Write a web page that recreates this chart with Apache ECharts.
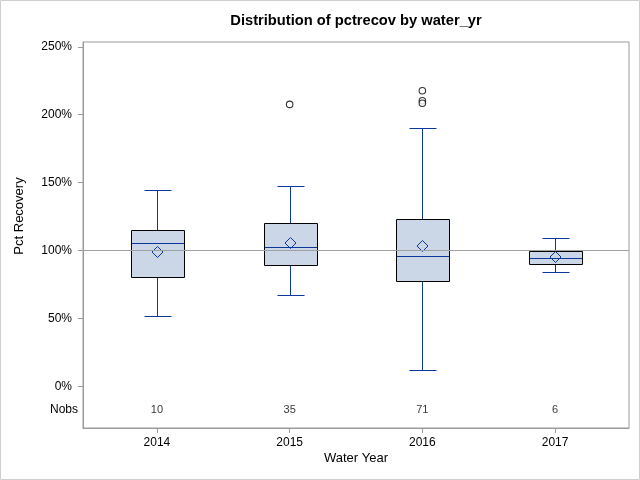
<!DOCTYPE html>
<html>
<head>
<meta charset="utf-8">
<script src="https://cdn.jsdelivr.net/npm/echarts@6/dist/echarts.min.js"></script>
<style>
html,body{margin:0;padding:0;background:#fff;}
#c{width:640px;height:480px;}
</style>
</head>
<body>
<div id="c"></div>
<script>
// ---- data ----
const years = ['2014', '2015', '2016', '2017'];
const nobs = [10, 35, 71, 6];
const whiskerLow = [51.8, 67.2, 12.1, 84.1];
const q1 = [80.4, 89.3, 77.5, 90.0];
const median = [105.4, 102.7, 95.9, 94.4];
const q3 = [115.0, 120.1, 123.1, 99.5];
const whiskerHigh = [144.4, 147.4, 190.0, 109.1];
const mean = [98.8, 105.4, 103.5, 95.1];
const outliers = [[], [207.6], [217.6, 210.3, 208.4], []];
const yTicks = [0, 50, 100, 150, 200, 250];
const refValue = 100;
const nobsRowY = -17;

// ---- build ----
const boxData = years.map((y, i) => [i, whiskerLow[i], q1[i], median[i], q3[i], whiskerHigh[i], mean[i]]);
const outlierData = [];
outliers.forEach((arr, i) => arr.forEach(v => outlierData.push([i, v])));
const nobsData = nobs.map((n, i) => [i, nobsRowY, n]);

const BLUE = '#0a3799';
const FONT = 'Liberation Sans, Arial, sans-serif';
const px = v => Math.round(v) + 0.5;

const chart = echarts.init(document.getElementById('c'), null, {renderer: 'canvas'});
chart.setOption({
  animation: false,
  backgroundColor: '#fff',
  textStyle: {fontFamily: FONT},
  grid: {left: 83, right: 11, top: 42, bottom: 52, show: true, borderColor: '#9a9a9a', borderWidth: 1, backgroundColor: 'transparent'},
  graphic: [
    {type: 'rect', shape: {x: 0.5, y: 0.5, width: 639, height: 479}, style: {fill: 'none', stroke: '#cfcfcf', lineWidth: 1}, silent: true},
    {type: 'text', x: 356, y: 21, style: {text: 'Distribution of pctrecov by water_yr', font: 'bold 14.7px ' + FONT, fill: '#000', textAlign: 'center', textVerticalAlign: 'middle'}},
    {type: 'text', x: 19, y: 216, rotation: Math.PI / 2, style: {text: 'Pct Recovery', font: '13px ' + FONT, fill: '#000', textAlign: 'center', textVerticalAlign: 'middle'}},
    {type: 'text', x: 356, y: 458, style: {text: 'Water Year', font: '13px ' + FONT, fill: '#000', textAlign: 'center', textVerticalAlign: 'middle'}}
  ],
  xAxis: {
    type: 'value', min: -0.557, max: 3.557,
    axisLine: {show: true, onZero: false, lineStyle: {color: '#9a9a9a', width: 1}},
    axisTick: {show: true, customValues: [0, 1, 2, 3], length: 5, lineStyle: {color: '#9a9a9a'}},
    axisLabel: {customValues: [0, 1, 2, 3], formatter: v => years[Math.round(v)], fontSize: 12, color: '#000', margin: 9, fontFamily: FONT},
    splitLine: {show: false}
  },
  yAxis: {
    type: 'value', min: -30.4, max: 253.5,
    axisLine: {show: true, onZero: false, lineStyle: {color: '#9a9a9a', width: 1}},
    axisTick: {show: true, customValues: yTicks, length: 5, lineStyle: {color: '#9a9a9a'}},
    axisLabel: {
      customValues: [nobsRowY].concat(yTicks),
      formatter: v => v === nobsRowY ? '{n|Nobs}' : '{p|' + v + '%}',
      margin: 5, color: '#000', fontSize: 12, fontFamily: FONT,
      rich: {p: {padding: [0, 6, 0, 0], fontSize: 12, color: '#000', fontFamily: FONT}, n: {fontSize: 12, color: '#000', fontFamily: FONT}}
    },
    splitLine: {show: false}
  },
  series: [
    {
      type: 'custom',
      data: boxData,
      z: 2,
      renderItem: function (params, api) {
        const x = api.value(0);
        const c = v => api.coord([x, v]);
        const cx = px(c(0)[0]);
        const bw = api.size([0.4, 0])[0];
        const cw = api.size([0.2, 0])[0];
        const yLo = px(c(api.value(1))[1]);
        const yQ1 = px(c(api.value(2))[1]);
        const yMed = px(c(api.value(3))[1]);
        const yQ3 = px(c(api.value(4))[1]);
        const yHi = px(c(api.value(5))[1]);
        const pm = c(api.value(6));
        const my = Math.round(pm[1]);
        const l = px(cx - bw / 2), r = px(cx + bw / 2);
        const cl = px(cx - cw / 2), cr = px(cx + cw / 2);
        const ls = {stroke: BLUE, lineWidth: 1};
        const d = 5.5;
        return {
          type: 'group',
          children: [
            {type: 'line', shape: {x1: cx, y1: yQ3, x2: cx, y2: yHi}, style: ls},
            {type: 'line', shape: {x1: cx, y1: yQ1, x2: cx, y2: yLo}, style: ls},
            {type: 'line', shape: {x1: cl, y1: yHi, x2: cr, y2: yHi}, style: ls},
            {type: 'line', shape: {x1: cl, y1: yLo, x2: cr, y2: yLo}, style: ls},
            {type: 'rect', shape: {x: l, y: yQ3, width: r - l, height: yQ1 - yQ3}, style: {fill: '#cbd6e6', stroke: '#000', lineWidth: 1}},
            {type: 'line', shape: {x1: l + 0.5, y1: yMed, x2: r - 0.5, y2: yMed}, style: ls},
            {type: 'polygon', shape: {points: [[cx, my - d], [cx + d, my], [cx, my + d], [cx - d, my]]}, style: {fill: 'none', stroke: BLUE, lineWidth: 1}}
          ]
        };
      }
    },
    {
      type: 'scatter',
      data: outlierData,
      symbol: 'circle',
      symbolSize: 6.5,
      z: 3,
      itemStyle: {color: '#fff', borderColor: '#000', borderWidth: 1.1},
      markLine: {
        silent: true, symbol: 'none', z: 5,
        label: {show: false},
        lineStyle: {color: '#a0a0a0', type: 'solid', width: 1},
        data: [{yAxis: refValue}]
      }
    },
    {
      type: 'scatter',
      data: nobsData,
      symbolSize: 0,
      z: 3,
      label: {show: true, position: 'inside', formatter: p => String(p.value[2]), fontSize: 11, color: '#000', fontFamily: FONT}
    }
  ]
});
</script>
</body>
</html>
